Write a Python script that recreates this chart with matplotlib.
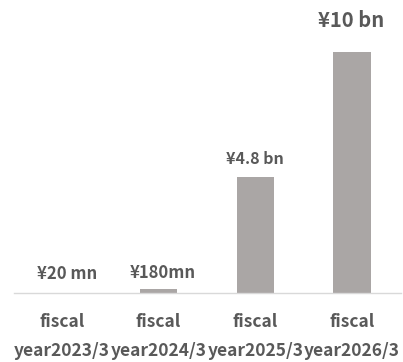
import matplotlib
matplotlib.use("Agg")
from matplotlib import pyplot as plt

# data
years = ["year2023/3", "year2024/3", "year2025/3", "year2026/3"]
values = [0.02, 0.18, 4.8, 10.0]   # billions of yen
labels = ["¥20 mn", "¥180mn", "¥4.8 bn", "¥10 bn"]

# label styling
labelSizes = [12, 12, 11.5, 14.5]
labelOffsets = [(3.5, 13), (3, 11), (0, 13.5), (-1, 23)]

plt.rcParams['font.family'] = ['Noto Sans CJK JP', 'DejaVu Sans']

fig = plt.figure(figsize=(4.03, 3.62), dpi=100)
ax = fig.add_axes([13.5 / 403, 69 / 362, 387 / 403, 293 / 362])

x = list(range(len(years)))
ax.bar(x, values, width=0.39, color="#aaa6a5")

for i in x:
  ax.annotate(labels[i], (x[i], values[i]), xytext=labelOffsets[i],
              textcoords="offset points", ha="center", va="center",
              fontsize=labelSizes[i], fontweight="bold", color="#595959")

ax.set_xlim(-0.5, 3.5)
ax.set_ylim(0, 12.16)
ax.set_xticks(x)
ax.set_xticklabels(["fiscal\n" + y for y in years], fontsize=12.5,
                   fontweight="bold", color="#595959", linespacing=1.75)
ax.tick_params(axis="x", length=0, pad=14.5)
ax.set_yticks([])
for side in ["top", "right", "left"]:
  ax.spines[side].set_visible(False)
ax.spines["bottom"].set_color("#d9d9d9")
ax.spines["bottom"].set_linewidth(1)

fig.savefig("out.png", dpi=100, facecolor="white")
